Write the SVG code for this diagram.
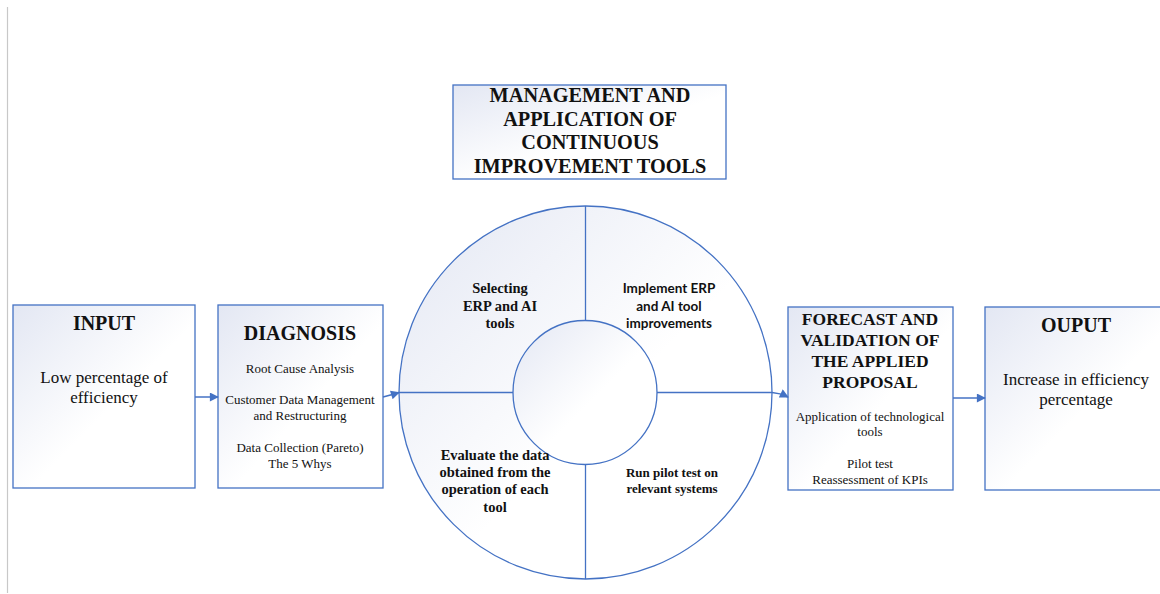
<svg xmlns="http://www.w3.org/2000/svg" width="1160" height="594" viewBox="0 0 1160 594">
  <defs>
    <linearGradient id="shade" x1="0" y1="0" x2="1" y2="1">
      <stop offset="0" stop-color="#e3e7f3"/>
      <stop offset="0.55" stop-color="#ffffff"/>
      <stop offset="1" stop-color="#ffffff"/>
    </linearGradient>
    <marker id="arrow" viewBox="0 0 10 10" refX="9" refY="5" markerWidth="10" markerHeight="9" markerUnits="userSpaceOnUse" orient="auto">
      <path d="M0,0 L10,5 L0,10 z" fill="#4472c4"/>
    </marker>
    <style>
      .box { fill: url(#shade); stroke: #4472c4; stroke-width: 1.3; }
      .div { stroke: #4472c4; stroke-width: 1.3; fill: none; }
      .conn { stroke: #4472c4; stroke-width: 1.5; fill: none; marker-end: url(#arrow); }
      .t { font-family: 'Liberation Serif', 'DejaVu Serif', serif; fill: #111; text-anchor: middle; }
      .head { font-weight: bold; font-size: 20px; }
      .title { font-weight: bold; font-size: 20.3px; }
      .body { font-size: 17px; }
      .item { font-size: 13px; }
      .seg { font-weight: bold; font-size: 14.5px; }
      .segsm { font-weight: bold; font-size: 13px; }
      .sans { font-family: Lato, 'Liberation Sans', sans-serif; font-weight: bold; font-size: 13.5px; }
      .sub { font-weight: bold; font-size: 17.5px; }
    </style>
  </defs>

  <rect width="1160" height="594" fill="#ffffff"/>
  <line x1="7.5" y1="7" x2="7.5" y2="593" stroke="#c8c8c8" stroke-width="1.2"/>

  <g id="management-title">
    <rect class="box" x="453" y="85" width="273" height="94"/>
    <text class="t title" x="590" y="102">MANAGEMENT AND</text>
    <text class="t title" x="590" y="126">APPLICATION OF</text>
    <text class="t title" x="590" y="149">CONTINUOUS</text>
    <text class="t title" x="590" y="173">IMPROVEMENT TOOLS</text>
  </g>

  <g id="input">
    <rect class="box" x="13" y="305" width="182" height="183"/>
    <text class="t head" x="104" y="330">INPUT</text>
    <text class="t body" x="104" y="383">Low percentage of</text>
    <text class="t body" x="104" y="403">efficiency</text>
  </g>

  <g id="diagnosis">
    <rect class="box" x="218" y="305" width="165" height="183"/>
    <text class="t head" x="300" y="340">DIAGNOSIS</text>
    <text class="t item" x="300" y="373">Root Cause Analysis</text>
    <text class="t item" x="300" y="404">Customer Data Management</text>
    <text class="t item" x="300" y="420">and Restructuring</text>
    <text class="t item" x="300" y="452">Data Collection (Pareto)</text>
    <text class="t item" x="300" y="468">The 5 Whys</text>
  </g>

  <g id="improvement-cycle">
    <circle class="box" cx="585.5" cy="392.5" r="186.5"/>
    <circle class="box" cx="585" cy="392.5" r="72"/>
    <line class="div" x1="585.5" y1="206" x2="585.5" y2="320.5"/>
    <line class="div" x1="585.5" y1="464.5" x2="585.5" y2="579"/>
    <line class="div" x1="399" y1="392.5" x2="513" y2="392.5"/>
    <line class="div" x1="657" y1="392.5" x2="772" y2="392.5"/>
    <text class="t seg" x="500" y="293">Selecting</text>
    <text class="t seg" x="500" y="311">ERP and AI</text>
    <text class="t seg" x="500" y="328">tools</text>
    <text class="t sans" x="669" y="293">Implement ERP</text>
    <text class="t sans" x="669" y="311">and AI tool</text>
    <text class="t sans" x="669" y="328">improvements</text>
    <text class="t seg" x="495" y="460">Evaluate the data</text>
    <text class="t seg" x="495" y="477">obtained from the</text>
    <text class="t seg" x="495" y="494">operation of each</text>
    <text class="t seg" x="495" y="512">tool</text>
    <text class="t segsm" x="672" y="477">Run pilot test on</text>
    <text class="t segsm" x="672" y="493">relevant systems</text>
  </g>

  <g id="forecast-validation">
    <rect class="box" x="788" y="307" width="165" height="183"/>
    <text class="t sub" x="870" y="325">FORECAST AND</text>
    <text class="t sub" x="870" y="346">VALIDATION OF</text>
    <text class="t sub" x="870" y="367">THE APPLIED</text>
    <text class="t sub" x="870" y="388">PROPOSAL</text>
    <text class="t item" x="870" y="421">Application of technological</text>
    <text class="t item" x="870" y="436">tools</text>
    <text class="t item" x="870" y="468">Pilot test</text>
    <text class="t item" x="870" y="484">Reassessment of KPIs</text>
  </g>

  <g id="output">
    <rect class="box" x="985" y="307" width="185" height="183"/>
    <text class="t head" x="1076" y="332">OUPUT</text>
    <text class="t body" x="1076" y="385">Increase in efficiency</text>
    <text class="t body" x="1076" y="405">percentage</text>
  </g>

  <g id="connectors">
    <line class="conn" x1="195" y1="397" x2="218" y2="397"/>
    <path class="conn" d="M383,397 Q391,395 399,392.5"/>
    <path class="conn" d="M772,392.5 Q780,393 788,397"/>
    <line class="conn" x1="953" y1="398" x2="985" y2="398"/>
  </g>
</svg>
